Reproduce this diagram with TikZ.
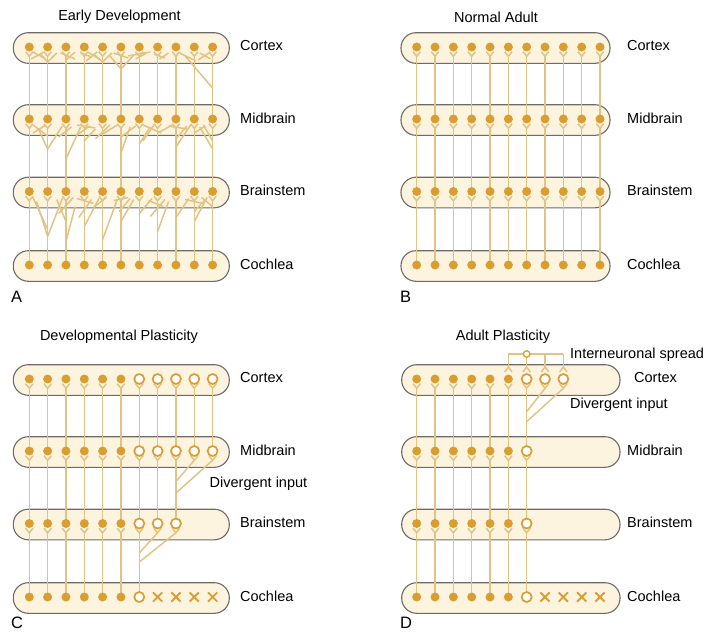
\documentclass[tikz,border=0pt]{standalone}
\usepackage{fontspec}
\setmainfont{Liberation Sans}
\usetikzlibrary{positioning, calc}

\definecolor{barfill}{HTML}{FCF4DF}
\definecolor{barline}{HTML}{6E6B66}
\definecolor{cellgold}{HTML}{DA9E30}
\definecolor{fibre}{HTML}{E2C384}

\tikzset{
  bar/.style={draw=barline, fill=barfill, line width=1.1pt, rounded corners=15pt},
  axon/.style={draw=fibre, line width=1.5pt},
  cell/.style={circle, fill=cellgold, inner sep=0pt, minimum size=9pt},
  opencell/.style={circle, draw=cellgold, fill=white, line width=1.7pt, inner sep=0pt, minimum size=10pt},
  region/.style={anchor=west, inner sep=0pt, font=\fontsize{14.5}{17}\selectfont},
  paneltitle/.style={inner sep=0pt, font=\fontsize{14.5}{17}\selectfont},
  panelletter/.style={anchor=west, inner sep=0pt, font=\fontsize{16.5}{19}\selectfont},
  dendrite/.pic={\draw[axon] (-3.7,4.7) -- (0,9.3) -- (3.7,4.7);},
  topinput/.pic={\draw[axon] (-3.7,-7) -- (0,-12) -- (3.7,-7);},
  deadcell/.pic={\draw[cellgold, line width=1.9pt] (-4.6,-4.6) -- (4.6,4.6) (-4.6,4.6) -- (4.6,-4.6);},
}

\begin{document}
\begin{tikzpicture}[x=1pt, y=-1pt]
\useasboundingbox (0,0) rectangle (707,632);

\foreach \p/\bx/\by in {A/29.3/0, B/416.7/0, C/29.3/332, D/416.7/332}
  \foreach \r/\ry in {1/47, 2/119, 3/191.5, 4/265}
    \foreach \k in {1,...,11}
      \coordinate (\p-\r-\k) at ({\bx+(\k-1)*18.33}, {\ry+\by});

\foreach \xl/\xr/\by in {13.3/229.3/0, 401/610/0, 13.3/229.3/332, 401.7/620/332}
  \foreach \ry in {47, 119, 191.5, 265}
    \draw[bar] (\xl,{\ry+\by-14.3}) rectangle (\xr,{\ry+\by+16.3});

% A and B: one fibre per cell
\foreach \p in {A,B}
  \foreach \r/\s in {1/2, 2/3, 3/4}
    \foreach \k in {1,...,11} {
      \draw[axon] (\p-\s-\k) -- ([yshift=-9.3pt]\p-\r-\k);
      \pic at (\p-\r-\k) {dendrite};
    }

% A: stray branches
\foreach \a/\b/\c/\d in {1.2/5/1.9/12, 1.8/5/1.1/12, 2/15/2.5/6, 2/15/1.6/7, 2.7/6/3.5/12,
    3.5/5/3.0/13, 3.8/6/4.4/10, 4.2/5/4.9/13, 4.7/5/4.1/14, 5/15/5.5/6, 5/15/4.5/7,
    5.6/6/6.4/11, 6/22/6.7/8, 6/22/5.4/9, 6.4/9/7.6/5, 7.4/6/6.8/12, 7.8/7/8.4/11,
    8.6/6/8.1/12, 9.2/6/10.1/14, 9.5/9/11/41, 10.3/6/10.9/12, 10.8/6/10.2/13}
  \draw[axon] ({29.3+(\a-1)*18.33},{47+\b}) -- ({29.3+(\c-1)*18.33},{47+\d});
\foreach \a/\b/\c/\d in {1.2/6/2/17, 1.9/6/1.2/14, 2/30/2.8/7, 2/30/1.5/10, 3/40/3.8/8,
    3.3/8/2.6/18, 3.6/6/4.6/9, 4/22/4.6/10, 4.3/7/3.6/16, 5/15/5.8/6, 5.4/6/4.6/20,
    6/18/6.8/7, 6.5/8/6/34, 7/25/7.6/8, 7.2/6/8.2/14, 7.8/6/7.2/22, 8/14/8.8/6,
    8.6/7/9.6/10, 9/20/9.6/7, 9.8/6/9/28, 10/14/10.6/7, 10.5/6/11/22, 11/30/10.3/8}
  \draw[axon] ({29.3+(\a-1)*18.33},{119+\b}) -- ({29.3+(\c-1)*18.33},{119+\d});
\foreach \a/\b/\c/\d in {1.2/6/2/38, 2/45/2.8/7, 2/45/1.4/10, 2.5/8/3/30, 3/50/3.5/15,
    3.4/6/2.6/22, 3.6/7/4.5/12, 4/35/4.8/7, 4.4/8/3.7/26, 5/48/5.8/8, 5.2/6/4.5/16,
    5.6/9/6.4/6, 6/30/6.7/8, 6.5/7/5.9/20, 7/22/7.7/7, 7.5/9/8.3/15, 8/40/8.6/10,
    8.4/8/7.6/25, 9/26/9.7/7, 9.5/8/10.5/12, 10/20/10.6/8, 10.7/6/10/30, 11/15/10.4/6}
  \draw[axon] ({29.3+(\a-1)*18.33},{191.5+\b}) -- ({29.3+(\c-1)*18.33},{191.5+\d});

% C
\foreach \k in {1,...,11} {
  \draw[axon] (C-2-\k) -- ([yshift=-9.3pt]C-1-\k);
  \pic at (C-1-\k) {dendrite};
  \pic at (C-2-\k) {dendrite};
}
\foreach \k in {1,...,9} {
  \draw[axon] (C-3-\k) -- ([yshift=-9.3pt]C-2-\k);
  \pic at (C-3-\k) {dendrite};
}
\foreach \k in {1,...,7}
  \draw[axon] (C-4-\k) -- ([yshift=-9.3pt]C-3-\k);
\draw[axon] ([yshift=-9.3pt]C-2-10) -- ([yshift=-30.5pt]C-2-9);
\draw[axon] ([yshift=-9.3pt]C-2-11) -- ([yshift=-42pt]C-2-9);
\draw[axon] ([yshift=-9.3pt]C-3-8) -- ([yshift=-29.5pt]C-3-7);
\draw[axon] ([yshift=-9.3pt]C-3-9) -- ([yshift=-38.5pt]C-3-7);

% D
\foreach \k in {1,...,9} \pic at (D-1-\k) {dendrite};
\foreach \k in {6,...,9} \pic at (D-1-\k) {topinput};
\foreach \r/\s in {1/2, 2/3, 3/4}
  \foreach \k in {1,...,7} \draw[axon] (D-\s-\k) -- ([yshift=-9.3pt]D-\r-\k);
\foreach \r in {2,3}
  \foreach \k in {1,...,7} \pic at (D-\r-\k) {dendrite};
\draw[axon] ([yshift=25pt]D-1-6) -- ([yshift=25pt]D-1-9);
\foreach \k in {6,...,9}
  \draw[axon] ([yshift=25pt]D-1-\k) -- ([yshift=12pt]D-1-\k);
\draw[axon] ([yshift=-9.3pt]D-1-8) -- ([yshift=-32.7pt]D-1-7);
\draw[axon] ([yshift=-9.3pt]D-1-9) -- ([yshift=-42.7pt]D-1-7);
\node[circle, draw=cellgold, fill=white, line width=1.3pt, minimum size=6.5pt, inner sep=0pt] (inter) at ([yshift=25pt]D-1-7) {};

% cells
\foreach \r in {1,...,4}
  \foreach \k in {1,...,11} {
    \node[cell] at (A-\r-\k) {};
    \node[cell] at (B-\r-\k) {};
  }
\foreach \r in {1,...,4}
  \foreach \k in {1,...,6} {
    \node[cell] at (C-\r-\k) {};
    \node[cell] at (D-\r-\k) {};
  }
\foreach \k in {7,...,11} {
  \node[opencell] at (C-1-\k) {};
  \node[opencell] at (C-2-\k) {};
}
\foreach \k in {7,8,9} {
  \node[opencell] at (C-3-\k) {};
  \node[opencell] at (D-1-\k) {};
}
\node[opencell] at (C-4-7) {};
\foreach \r in {2,3,4} \node[opencell] at (D-\r-7) {};
\foreach \k in {8,...,11} {
  \pic at (C-4-\k) {deadcell};
  \pic at (D-4-\k) {deadcell};
}

% labels
\foreach \p/\lx/\by in {A/240/0, B/627/0, C/240/332}
  \foreach \r/\txt/\ry in {1/Cortex/46, 2/Midbrain/118, 3/Brainstem/190.5, 4/Cochlea/264}
    \node[region] (\p-lbl-\r) at (\lx,{\ry+\by}) {\txt};
\node[region] (D-lbl-1) at (634,378) {Cortex};
\node[region] (D-lbl-2) at (627,450) {Midbrain};
\node[region] (D-lbl-3) at (627,522.5) {Brainstem};
\node[region] (D-lbl-4) at (627,596) {Cochlea};

\node[region] (C-div) at (209.5,484) {Divergent input};
\node[region] (D-inter) at (570,355) {Interneuronal spread};
\node[region] (D-div) at (570,405) {Divergent input};

\node[paneltitle] (A-title) at (119.5,17) {Early Development};
\node[paneltitle] (B-title) at (496,17) {Normal Adult};
\node[paneltitle] (C-title) at (119,337) {Developmental Plasticity};
\node[paneltitle] (D-title) at (503,337) {Adult Plasticity};

\node[panelletter] (A-tag) at (11,297) {A};
\node[panelletter] (B-tag) at (400,297) {B};
\node[panelletter] (C-tag) at (11,623) {C};
\node[panelletter] (D-tag) at (400,623) {D};
\end{tikzpicture}
\end{document}
